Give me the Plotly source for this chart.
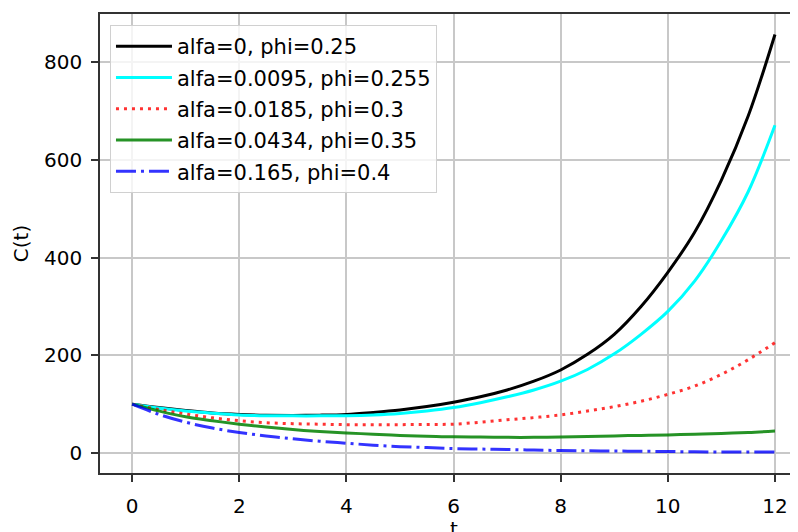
import plotly.graph_objects as go

t = [0, 0.5, 1, 1.5, 2, 2.5, 3, 3.5, 4, 4.5, 5, 5.5, 6, 6.5, 7, 7.5, 8, 8.5,
     9, 9.5, 10, 10.5, 11, 11.5, 12]
c_black = [100, 93, 87, 82, 79, 77.5, 77, 77.5, 79, 83, 88, 95, 104, 115, 129, 147,
           170, 202, 243, 300, 370, 452, 559, 690, 857]
c_cyan = [100, 92, 86, 81.5, 78, 76.5, 76, 76, 76.5, 78, 81, 86, 93, 103, 115, 129,
          147, 171, 203, 243, 290, 352, 435, 535, 671]
c_red = [100, 89, 80, 72, 66, 62, 60, 59, 58, 58, 58, 58.5, 59, 63, 68, 72.5,
         78, 86, 95, 106, 120, 137, 161, 191, 226]
c_green = [100, 86, 74, 66, 59, 53, 48, 44, 41, 38.5, 36, 34.5, 33, 32.5, 32, 32,
           32.5, 33.5, 35, 36, 37, 38.5, 40, 42, 45]
c_blue = [100, 79, 63, 51, 42, 35, 29, 24, 20, 16, 13, 11, 9, 8, 7, 6,
          5, 4.5, 4, 3.5, 3, 2.5, 2, 2, 2]

names = ["alfa=0, phi=0.25", "alfa=0.0095, phi=0.255", "alfa=0.0185, phi=0.3",
         "alfa=0.0434, phi=0.35", "alfa=0.165, phi=0.4"]
series = [c_black, c_cyan, c_red, c_green, c_blue]
colors = ["#000000", "#00FFFF", "rgba(255,0,0,0.8)", "rgba(0,128,0,0.85)", "rgba(0,0,255,0.8)"]
dashes = ["solid", "solid", "3px,5px", "solid", "20px,5px,3px,5px"]

x_ticks = [0, 2, 4, 6, 8, 10, 12]
y_ticks = [0, 200, 400, 600, 800]
x_label = "t"
y_label = "C(t)"

FONT = "DejaVu Sans"
fig = go.Figure()
for i, (nm, ys, col, dsh) in enumerate(zip(names, series, colors, dashes)):
    fig.add_trace(go.Scatter(
        x=t, y=ys, mode="lines", name=nm, legendgroup=str(i),
        line=dict(color=col, width=3, dash=dsh, shape="spline", smoothing=1.0),
    ))

fig.update_layout(
    width=790, height=524,
    margin=dict(l=92, r=0, t=6, b=59, autoexpand=False),
    paper_bgcolor="white", plot_bgcolor="white",
    font=dict(family=FONT, size=20, color="#000000"),
    showlegend=True,
    legend=dict(
        x=0.0143, y=0.976, xanchor="left", yanchor="top",
        bgcolor="rgba(255,255,255,0.8)", bordercolor="#d0d0d0", borderwidth=1,
        font=dict(family=FONT, size=21, color="#000000"),
        traceorder="grouped", tracegroupgap=1, itemwidth=56,
    ),
    annotations=[dict(
        text=x_label, xref="x", yref="paper", x=6, y=-0.092,
        xanchor="center", yanchor="top", showarrow=False,
        font=dict(family=FONT, size=20, color="#000000"),
    )],
)
fig.update_xaxes(
    range=[-0.6, 12.43], tickvals=x_ticks, ticktext=[str(v) for v in x_ticks],
    showgrid=True, gridcolor="#c8c8c8", gridwidth=1.5, zeroline=False,
    showline=True, linecolor="#333333", linewidth=1.7, mirror=True,
    ticks="outside", ticklen=7, tickwidth=1.7, tickcolor="#333333",
    ticklabelstandoff=7, automargin=False,
)
fig.update_yaxes(
    range=[-41, 899], tickvals=y_ticks, ticktext=[str(v) for v in y_ticks],
    showgrid=True, gridcolor="#c8c8c8", gridwidth=1.5, zeroline=False,
    showline=True, linecolor="#333333", linewidth=1.7, mirror=False,
    ticks="outside", ticklen=7, tickwidth=1.7, tickcolor="#333333",
    ticklabelstandoff=5,
    title=dict(text=y_label, standoff=10, font=dict(family=FONT, size=20)),
    automargin=False,
)
fig.write_html("out.html")
